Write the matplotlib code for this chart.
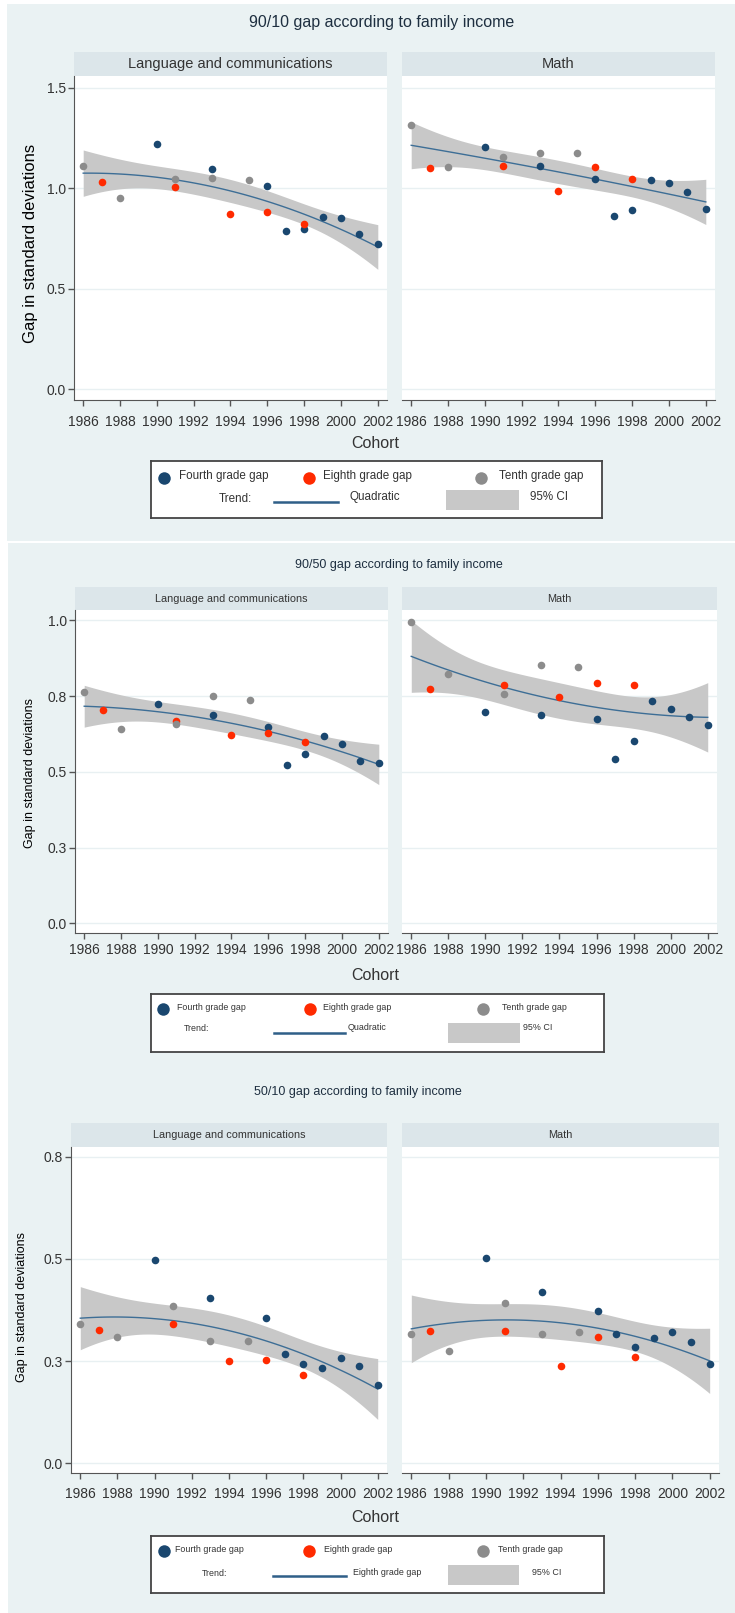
import numpy as np
import matplotlib
matplotlib.use("Agg")
import matplotlib.pyplot as plt
from matplotlib.patches import Rectangle
from matplotlib.lines import Line2D

plt.rcParams['font.family'] = ['Liberation Sans Narrow', 'Liberation Sans', 'DejaVu Sans']

# ---- data ----
cohort_4th = [1990, 1993, 1996, 1997, 1998, 1999, 2000, 2001, 2002]
cohort_8th = [1987, 1991, 1994, 1996, 1998]
cohort_10th = [1986, 1988, 1991, 1993, 1995]

gap9010_lang_4th = [1.220, 1.094, 1.010, 0.789, 0.797, 0.857, 0.852, 0.773, 0.721]
gap9010_lang_8th = [1.031, 1.008, 0.874, 0.884, 0.821]
gap9010_lang_10th = [1.112, 0.953, 1.046, 1.051, 1.041]
gap9010_math_4th = [1.204, 1.109, 1.046, 0.864, 0.890, 1.041, 1.026, 0.983, 0.899]
gap9010_math_8th = [1.100, 1.111, 0.988, 1.106, 1.046]
gap9010_math_10th = [1.315, 1.104, 1.154, 1.174, 1.174]

gap9050_lang_4th = [0.723, 0.688, 0.647, 0.521, 0.560, 0.619, 0.591, 0.535, 0.529]
gap9050_lang_8th = [0.705, 0.668, 0.622, 0.629, 0.598]
gap9050_lang_10th = [0.762, 0.640, 0.657, 0.751, 0.736]
gap9050_math_4th = [0.696, 0.689, 0.675, 0.543, 0.602, 0.733, 0.707, 0.681, 0.654]
gap9050_math_8th = [0.773, 0.786, 0.748, 0.793, 0.786]
gap9050_math_10th = [0.995, 0.824, 0.758, 0.853, 0.845]

gap5010_lang_4th = [0.496, 0.404, 0.356, 0.267, 0.242, 0.234, 0.257, 0.239, 0.191]
gap5010_lang_8th = [0.325, 0.341, 0.249, 0.252, 0.217]
gap5010_lang_10th = [0.341, 0.310, 0.385, 0.300, 0.300]
gap5010_math_4th = [0.501, 0.420, 0.373, 0.317, 0.284, 0.307, 0.320, 0.297, 0.242]
gap5010_math_8th = [0.324, 0.324, 0.239, 0.310, 0.260]
gap5010_math_10th = [0.317, 0.275, 0.391, 0.317, 0.320]

xticks = [1986, 1988, 1990, 1992, 1994, 1996, 1998, 2000, 2002]
yticks_9010 = [0.0, 0.5, 1.0, 1.5]
ylabels_9010 = ['0.0', '0.5', '1.0', '1.5']
yticks_9050 = [0.0, 0.25, 0.5, 0.75, 1.0]
ylabels_9050 = ['0.0', '0.3', '0.5', '0.8', '1.0']
yticks_5010 = [0.0, 0.25, 0.5, 0.75]
ylabels_5010 = ['0.0', '0.3', '0.5', '0.8']

titles = ['90/10 gap according to family income',
          '90/50 gap according to family income',
          '50/10 gap according to family income']
subjects = ['Language and communications', 'Math']
fit_labels = ['Quadratic', 'Quadratic', 'Eighth grade gap']

# ---- style ----
C4, C8, C10 = '#1a476f', '#ff2a00', '#8c8c8c'
CI_COL, TREND_COL = '#c8c8c8', '#3d6e96'
BG, STRIP, GRID = '#eaf2f3', '#dce6ea', '#e8f0f2'
TXT = '#333333'
T975 = 2.120  # t(0.975, df = 19 - 3)

W, H = 735, 1613
fig = plt.figure(figsize=(W / 100, H / 100), dpi=100)
fig.patch.set_facecolor('white')


def frac(x0, y0, x1, y1):
    return [x0 / W, 1 - y1 / H, (x1 - x0) / W, (y1 - y0) / H]


def qfitci(x, y, xs):
    x = np.asarray(x, float) - 1994.0
    y = np.asarray(y, float)
    X = np.column_stack([np.ones_like(x), x, x ** 2])
    beta = np.linalg.lstsq(X, y, rcond=None)[0]
    res = y - X @ beta
    s2 = res @ res / (len(y) - 3)
    xtxi = np.linalg.inv(X.T @ X)
    g = xs - 1994.0
    G = np.column_stack([np.ones_like(g), g, g ** 2])
    fit = G @ beta
    se = np.sqrt(s2 * np.einsum('ij,jk,ik->i', G, xtxi, G))
    return fit, fit - T975 * se, fit + T975 * se


for r in [(7, 4, 735, 541), (8, 543, 735, 1613)]:
    fig.patches.append(Rectangle((r[0] / W, 1 - r[3] / H), (r[2] - r[0]) / W, (r[3] - r[1]) / H,
                                 transform=fig.transFigure, facecolor=BG, edgecolor='none', zorder=-10))

blocks = [
    dict(data=[(gap9010_lang_4th, gap9010_lang_8th, gap9010_lang_10th),
               (gap9010_math_4th, gap9010_math_8th, gap9010_math_10th)],
         yticks=yticks_9010, ylabels=ylabels_9010,
         title_xy=(382, 23), title_fs=11.5,
         strip=(52, 76), axy=(76, 400), lx=(74, 387), rx=(402, 715),
         zero=389.3, k=201.0, strip_fs=10.5, ylab_xy=(31, 243), ylab_fs=12,
         tick_fs=10, tick_pad=7, cohort_y=444, cohort_fs=11.5,
         leg=(151, 461, 602, 518), leg_fs=8.4, leg_ms=9,
         row1=0.71, row2=0.34, mk=(0.028, 0.351, 0.732), lt=(0.062, 0.382, 0.772),
         trend_x=0.187, line=(0.273, 0.415, 0.28), fit_x=0.441, rect=(0.654, 0.815, 0.14, 0.49), ci_x=0.841),
    dict(data=[(gap9050_lang_4th, gap9050_lang_8th, gap9050_lang_10th),
               (gap9050_math_4th, gap9050_math_8th, gap9050_math_10th)],
         yticks=yticks_9050, ylabels=ylabels_9050,
         title_xy=(399, 565), title_fs=9,
         strip=(587, 610), axy=(610, 933), lx=(75, 388), rx=(402, 717),
         zero=923.3, k=303.0, strip_fs=7.8, ylab_xy=(30, 773), ylab_fs=9,
         tick_fs=10, tick_pad=3, cohort_y=976, cohort_fs=11.5,
         leg=(151, 994, 604, 1052), leg_fs=6.4, leg_ms=9,
         row1=0.75, row2=0.40, mk=(0.026, 0.35, 0.733), lt=(0.058, 0.379, 0.774),
         trend_x=0.101, line=(0.272, 0.428, 0.32), fit_x=0.433, rect=(0.655, 0.814, 0.16, 0.50), ci_x=0.821),
    dict(data=[(gap5010_lang_4th, gap5010_lang_8th, gap5010_lang_10th),
               (gap5010_math_4th, gap5010_math_8th, gap5010_math_10th)],
         yticks=yticks_5010, ylabels=ylabels_5010,
         title_xy=(358, 1092), title_fs=9,
         strip=(1123, 1147), axy=(1147, 1473), lx=(71, 387), rx=(402, 719),
         zero=1463.3, k=409.0, strip_fs=7.8, ylab_xy=(22, 1307), ylab_fs=9,
         tick_fs=10, tick_pad=6, cohort_y=1518, cohort_fs=11.5,
         leg=(151, 1536, 604, 1593), leg_fs=6.4, leg_ms=9,
         row1=0.735, row2=0.34, mk=(0.028, 0.348, 0.733), lt=(0.053, 0.381, 0.766),
         trend_x=0.141, line=(0.27, 0.43, 0.305), fit_x=0.447, rect=(0.655, 0.813, 0.14, 0.49), ci_x=0.84),
]

xs = np.linspace(1986, 2002, 100)

for bi, b in enumerate(blocks):
    fig.text(b['title_xy'][0] / W, 1 - b['title_xy'][1] / H, titles[bi], ha='center', va='center',
             fontsize=b['title_fs'], color='#1e2f40')
    ytop, ybot = b['axy']
    ymin = (b['zero'] - ybot) / b['k']
    ymax = (b['zero'] - ytop) / b['k']
    for side, (xr, (v4, v8, v10)) in enumerate(zip([b['lx'], b['rx']], b['data'])):
        sax = fig.add_axes(frac(xr[0], b['strip'][0], xr[1], b['strip'][1]))
        sax.set_facecolor(STRIP)
        sax.set_xticks([]); sax.set_yticks([])
        for s in sax.spines.values():
            s.set_visible(False)
        sax.text(0.5, 0.5, subjects[side], ha='center', va='center', fontsize=b['strip_fs'], color=TXT)

        ax = fig.add_axes(frac(xr[0], ytop, xr[1], ybot))
        ax.set_facecolor('white')
        xall = cohort_4th + cohort_8th + cohort_10th
        yall = v4 + v8 + v10
        fit, lo, hi = qfitci(xall, yall, xs)
        ax.fill_between(xs, lo, hi, color=CI_COL, lw=0, zorder=1)
        ax.plot(xs, fit, color=TREND_COL, lw=1.0, zorder=2)
        ax.scatter(cohort_4th, v4, s=30, color=C4, lw=0, zorder=3)
        ax.scatter(cohort_8th, v8, s=30, color=C8, lw=0, zorder=3)
        ax.scatter(cohort_10th, v10, s=30, color=C10, lw=0, zorder=3)

        ax.set_xlim(1985.5, 2002.5)
        ax.set_ylim(ymin, ymax)
        ax.set_xticks(xticks)
        ax.set_yticks(b['yticks'])
        ax.set_yticklabels(b['ylabels'])
        ax.grid(axis='y', color=GRID, lw=1.0, zorder=0)
        ax.set_axisbelow(True)
        for s in ['top', 'right']:
            ax.spines[s].set_visible(False)
        ax.spines['bottom'].set_color('#555555')
        ax.spines['left'].set_color('#555555')
        ax.tick_params(axis='both', direction='out', length=4, width=1, color='#555555',
                       labelsize=b['tick_fs'], labelcolor=TXT)
        ax.tick_params(axis='x', pad=b['tick_pad'])
        ax.tick_params(axis='y', pad=2)
        if side == 1:
            ax.spines['left'].set_visible(False)
            ax.tick_params(axis='y', left=False, labelleft=False)

    fig.text(b['ylab_xy'][0] / W, 1 - b['ylab_xy'][1] / H, 'Gap in standard deviations',
             rotation=90, ha='center', va='center', fontsize=b['ylab_fs'], color='black')
    fig.text(375 / W, 1 - b['cohort_y'] / H, 'Cohort', ha='center', va='center',
             fontsize=b['cohort_fs'], color=TXT)

    # legend box
    lg = fig.add_axes(frac(*b['leg']))
    lg.set_xlim(0, 1); lg.set_ylim(0, 1)
    lg.set_xticks([]); lg.set_yticks([])
    lg.set_facecolor('white')
    for s in lg.spines.values():
        s.set_color('#444444'); s.set_linewidth(1.3)
    names = ['Fourth grade gap', 'Eighth grade gap', 'Tenth grade gap']
    for mx, tx, c, nm in zip(b['mk'], b['lt'], [C4, C8, C10], names):
        lg.add_line(Line2D([mx], [b['row1']], marker='o', ms=b['leg_ms'], color=c, mew=0))
        lg.text(tx, b['row1'] + 0.02, nm, ha='left', va='center', fontsize=b['leg_fs'], color=TXT)
    lg.text(b['trend_x'], b['row2'], 'Trend:', ha='center', va='center', fontsize=b['leg_fs'], color=TXT)
    l0, l1, ly = b['line']
    lg.add_line(Line2D([l0, l1], [ly, ly], color='#2f5f88', lw=1.8))
    lg.text(b['fit_x'], b['row2'] + 0.02, fit_labels[bi], ha='left', va='center',
            fontsize=b['leg_fs'], color=TXT)
    r0, r1, ry0, ry1 = b['rect']
    lg.add_patch(Rectangle((r0, ry0), r1 - r0, ry1 - ry0, facecolor=CI_COL, edgecolor='none'))
    lg.text(b['ci_x'], b['row2'] + 0.02, '95% CI', ha='left', va='center', fontsize=b['leg_fs'], color=TXT)

fig.savefig('out.png', dpi=100)
